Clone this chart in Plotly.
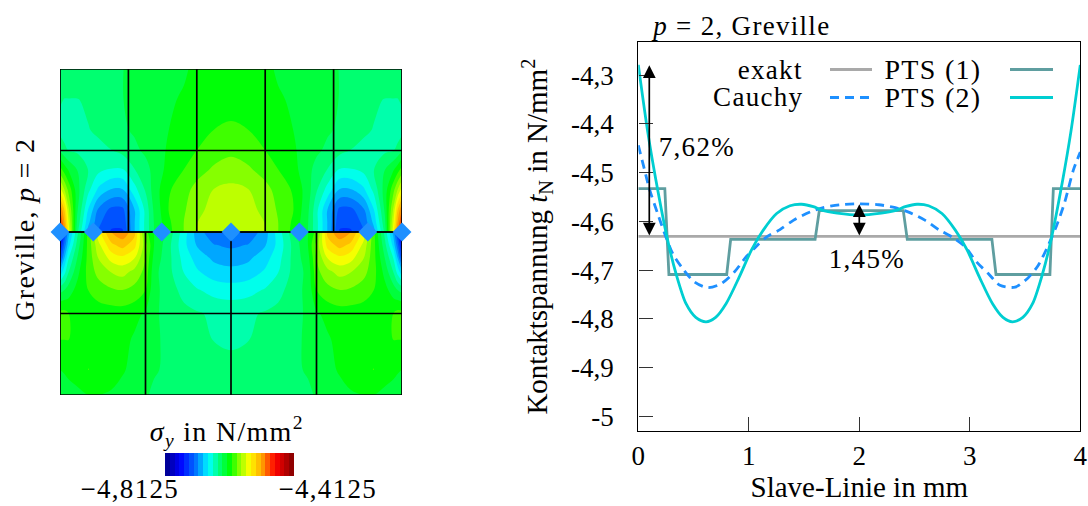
import plotly.graph_objects as go

W, H = 1088, 506
FONT = "Liberation Serif"

# ---------- line chart values (mm, N/mm^2) ----------
exact_x = [0, 4]
exact_y = [-4.631, -4.631]

pts1_x = [0, 0.24, 0.277, 0.80, 0.836, 1.60, 1.638, 2.398, 2.434, 3.20, 3.237, 3.725, 3.756, 4]
pts1_y = [-4.533, -4.533, -4.709, -4.709, -4.637, -4.637, -4.578, -4.578, -4.637, -4.637, -4.709, -4.709, -4.533, -4.533]

cauchy_x = [0, 0.054, 0.10, 0.175, 0.25, 0.311, 0.402, 0.507, 0.628, 0.748, 0.869, 0.975, 1.065, 1.162,
            1.282, 1.403, 1.554, 1.674, 1.825, 2.0, 2.175, 2.326, 2.446, 2.597, 2.718, 2.838, 2.957, 3.06,
            3.167, 3.273, 3.41, 3.527, 3.62, 3.71, 3.787, 3.86, 3.937, 4]
cauchy_y = [-4.444, -4.492, -4.533, -4.584, -4.632, -4.666, -4.697, -4.724, -4.736, -4.728, -4.704, -4.673,
            -4.652, -4.632, -4.617, -4.598, -4.581, -4.572, -4.566, -4.564, -4.566, -4.572, -4.581, -4.598,
            -4.617, -4.632, -4.652, -4.683, -4.707, -4.731, -4.735, -4.716, -4.69, -4.649, -4.608, -4.56,
            -4.495, -4.458]

pts2_x = [0, 0.085, 0.16, 0.266, 0.341, 0.432, 0.52, 0.613, 0.70, 0.794, 0.914, 1.026, 1.131, 1.252, 1.373,
          1.478, 1.584, 1.66, 1.8, 2.0, 2.2, 2.34, 2.416, 2.522, 2.627, 2.748, 2.869, 2.974, 3.086, 3.206,
          3.30, 3.387, 3.48, 3.568, 3.659, 3.734, 3.84, 3.915, 4]
pts2_y = [-4.279, -4.416, -4.516, -4.639, -4.707, -4.769, -4.797, -4.806, -4.797, -4.769, -4.714, -4.658,
          -4.618, -4.584, -4.568, -4.565, -4.570, -4.577, -4.583, -4.587, -4.583, -4.577, -4.570, -4.565,
          -4.568, -4.584, -4.618, -4.658, -4.714, -4.769, -4.797, -4.806, -4.797, -4.769, -4.707, -4.639,
          -4.516, -4.416, -4.279]

y_ticks = [-5, -4.9, -4.8, -4.7, -4.6, -4.5, -4.4, -4.3]
y_tick_text = ["-5", "-4,9", "-4,8", "-4,7", "-4,6", "-4,5", "-4,4", "-4,3"]
x_ticks = [0, 1, 2, 3, 4]

# ---------- field values on the left half of the patch (the stress field is symmetric) ----------
field_x_half = [0, 0.05, 0.1, 0.2, 0.33, 0.45, 0.6, 0.73, 0.87, 1.0, 1.1, 1.27, 1.45, 1.6, 1.8, 2.0]

upper_y = [4, 3.62, 3.25, 3, 2.77, 2.52, 2.27, 2.12, 2]
upper_z_half = [
    [-4.64, -4.64, -4.64, -4.64, -4.64, -4.64, -4.638, -4.635, -4.632, -4.63, -4.628, -4.625, -4.622, -4.616, -4.613, -4.612],
    [-4.648, -4.65, -4.65, -4.65, -4.648, -4.646, -4.64, -4.635, -4.632, -4.63, -4.627, -4.622, -4.618, -4.613, -4.611, -4.61],
    [-4.655, -4.657, -4.658, -4.655, -4.65, -4.648, -4.642, -4.637, -4.633, -4.63, -4.626, -4.62, -4.615, -4.608, -4.605, -4.603],
    [-4.635, -4.645, -4.65, -4.652, -4.65, -4.652, -4.65, -4.645, -4.638, -4.632, -4.627, -4.618, -4.612, -4.605, -4.598, -4.594],
    [-4.60, -4.612, -4.622, -4.635, -4.65, -4.66, -4.665, -4.665, -4.65, -4.64, -4.63, -4.615, -4.605, -4.597, -4.588, -4.583],
    [-4.555, -4.575, -4.595, -4.628, -4.66, -4.682, -4.695, -4.695, -4.67, -4.648, -4.628, -4.607, -4.596, -4.585, -4.575, -4.572],
    [-4.50, -4.53, -4.572, -4.632, -4.68, -4.712, -4.728, -4.728, -4.695, -4.66, -4.632, -4.605, -4.592, -4.58, -4.57, -4.567],
    [-4.48, -4.515, -4.56, -4.638, -4.69, -4.72, -4.735, -4.735, -4.695, -4.66, -4.634, -4.608, -4.59, -4.576, -4.567, -4.565],
    [-4.455, -4.50, -4.55, -4.645, -4.70, -4.725, -4.74, -4.74, -4.695, -4.66, -4.635, -4.61, -4.59, -4.575, -4.565, -4.563],
]

lower_y = [2, 1.84, 1.68, 1.51, 1.29, 1, 0.68, 0.31, 0]
lower_z_half = [
    [-4.785, -4.74, -4.70, -4.655, -4.60, -4.55, -4.515, -4.505, -4.525, -4.60, -4.62, -4.64, -4.672, -4.70, -4.722, -4.728],
    [-4.76, -4.72, -4.685, -4.645, -4.60, -4.565, -4.535, -4.525, -4.54, -4.585, -4.62, -4.645, -4.675, -4.695, -4.708, -4.712],
    [-4.735, -4.695, -4.665, -4.635, -4.60, -4.575, -4.555, -4.55, -4.56, -4.59, -4.625, -4.645, -4.67, -4.685, -4.697, -4.70],
    [-4.69, -4.67, -4.65, -4.625, -4.60, -4.585, -4.575, -4.57, -4.58, -4.595, -4.63, -4.645, -4.665, -4.677, -4.687, -4.69],
    [-4.64, -4.635, -4.628, -4.615, -4.605, -4.598, -4.592, -4.59, -4.595, -4.605, -4.63, -4.642, -4.655, -4.663, -4.67, -4.672],
    [-4.60, -4.60, -4.605, -4.607, -4.61, -4.612, -4.612, -4.612, -4.615, -4.622, -4.632, -4.64, -4.645, -4.648, -4.652, -4.654],
    [-4.605, -4.605, -4.605, -4.607, -4.607, -4.608, -4.61, -4.615, -4.622, -4.63, -4.633, -4.637, -4.64, -4.645, -4.65, -4.652],
    [-4.62, -4.618, -4.615, -4.61, -4.605, -4.606, -4.612, -4.618, -4.625, -4.632, -4.634, -4.636, -4.638, -4.64, -4.643, -4.645],
    [-4.63, -4.63, -4.628, -4.625, -4.62, -4.62, -4.622, -4.626, -4.63, -4.634, -4.636, -4.637, -4.637, -4.638, -4.64, -4.64],
]

sigma_min, sigma_max = -4.8125, -4.4125
n_bands = 27
colorbar_levels = [sigma_min + (i + 0.5) * (sigma_max - sigma_min) / n_bands for i in range(n_bands)]

jet_scale = [
    [0.0, "rgb(0,0,135)"], [0.12, "rgb(0,0,255)"], [0.25, "rgb(0,128,255)"], [0.34, "rgb(0,255,255)"],
    [0.415, "rgb(0,255,128)"], [0.505, "rgb(0,255,0)"], [0.57, "rgb(128,255,0)"], [0.655, "rgb(255,255,0)"],
    [0.75, "rgb(255,165,0)"], [0.853, "rgb(255,0,0)"], [1.0, "rgb(128,0,0)"],
]

upper_knots_x = [0, 0.8, 1.6, 2.4, 3.2, 4]
upper_knots_y = [2, 3, 4]
lower_knots_x = [0, 1, 2, 3, 4]
lower_knots_y = [0, 1, 2]

greville_x = [0, 0.39, 1.19, 2, 2.8, 3.6, 4]
greville_y = [2, 2, 2, 2, 2, 2, 2]

# ---------- colours ----------
C_EXACT, C_PTS1, C_CAUCHY, C_PTS2 = "#A9A9A9", "#5F9EA0", "#1E90FF", "#00CED1"


def full_x(half):
    return list(half) + [4 - v for v in half[-2::-1]]


def full_row(row):
    return list(row) + list(row[-2::-1])


fig = go.Figure()
field_x = full_x(field_x_half)
for ys, zs in ((upper_y, upper_z_half), (lower_y, lower_z_half)):
    fig.add_trace(go.Contour(
        x=field_x, y=ys[::-1], z=[full_row(r) for r in zs[::-1]],
        xaxis="x", yaxis="y", zmin=sigma_min, zmax=sigma_max, zauto=False,
        autocontour=False,
        contours=dict(start=sigma_min, end=sigma_max, size=(sigma_max - sigma_min) / n_bands, coloring="fill", showlines=False),
        line=dict(width=0), colorscale=jet_scale, showscale=False, hoverinfo="skip",
    ))

fig.add_trace(go.Heatmap(z=[colorbar_levels], x=colorbar_levels, xaxis="x3", yaxis="y3", zmin=sigma_min, zmax=sigma_max,
                         colorscale=jet_scale, showscale=False, hoverinfo="skip"))


def mesh(knots_x, knots_y):
    xs, ys = [], []
    for kx in knots_x:
        xs += [kx, kx, None]
        ys += [knots_y[0], knots_y[-1], None]
    for ky in knots_y:
        xs += [knots_x[0], knots_x[-1], None]
        ys += [ky, ky, None]
    return xs, ys


for kx, ky in ((upper_knots_x, upper_knots_y), (lower_knots_x, lower_knots_y)):
    mx, my = mesh(kx, ky)
    fig.add_trace(go.Scatter(x=mx, y=my, mode="lines", line=dict(color="black", width=1.7),
                             xaxis="x", yaxis="y", showlegend=False, hoverinfo="skip", cliponaxis=False))

fig.add_trace(go.Scatter(x=greville_x, y=greville_y, mode="markers", xaxis="x", yaxis="y",
                         marker=dict(symbol="diamond", size=14.5, color=C_CAUCHY, line=dict(width=0)),
                         cliponaxis=False, showlegend=False, hoverinfo="skip"))

for name, xs, ys, col, dash, shape in (
    ("exakt", exact_x, exact_y, C_EXACT, "solid", "linear"),
    ("PTS (1)", pts1_x, pts1_y, C_PTS1, "solid", "linear"),
    ("Cauchy", cauchy_x, cauchy_y, C_CAUCHY, "9px,6px", "spline"),
    ("PTS (2)", pts2_x, pts2_y, C_PTS2, "solid", "spline"),
):
    fig.add_trace(go.Scatter(x=xs, y=ys, mode="lines", name=name, xaxis="x2", yaxis="y2", showlegend=False,
                             line=dict(color=col, width=2.8, dash=dash, shape=shape, smoothing=0.8)))


def label(px, py, text, size=27, angle=0):
    return dict(x=px / W, y=1 - py / H, xref="paper", yref="paper", text=text, showarrow=False,
                xanchor="center", yanchor="middle", textangle=angle, font=dict(family=FONT, size=size, color="black"))


annotations = [
    label(24, 229, "Greville, <i>p</i> = 2", angle=-90, size=28),
    label(227, 431, "<i>σ<sub>y</sub></i> in N/mm<sup>2</sup>", size=28),
    label(129, 489, "−4,8125", size=27),
    label(327, 489, "−4,4125", size=27),
    label(741, 26, "<i>p</i> = 2, Greville"),
    label(770, 70, "exakt"),
    label(758, 97, "Cauchy"),
    label(933, 70, "PTS (1)", size=28),
    label(933, 97, "PTS (2)", size=28),
    label(697, 147, "7,62%"),
    label(867, 259, "1,45%"),
]
for ax_x, top, bottom in ((0.0995, -4.28, -4.632), (2.0, -4.565, -4.632)):
    annotations.append(dict(x=ax_x, y=top, ax=ax_x, ay=bottom, xref="x2", yref="y2", axref="x2", ayref="y2",
                            text="", showarrow=True, arrowhead=2, arrowside="end+start", arrowsize=1.5,
                            arrowwidth=1.7, arrowcolor="black"))

shapes = []
for x0, x1, yy, col, dash in ((830, 872, 69.5, C_EXACT, "solid"), (1010, 1053, 69.5, C_PTS1, "solid"),
                              (830, 872, 97.5, C_CAUCHY, "9px,6px"), (1010, 1053, 97.5, C_PTS2, "solid")):
    shapes.append(dict(type="line", xref="paper", yref="paper", x0=x0 / W, x1=x1 / W, y0=1 - yy / H, y1=1 - yy / H,
                       line=dict(color=col, width=2.8, dash=dash)))

fig.update_layout(
    width=W, height=H, margin=dict(l=0, r=0, t=0, b=0, autoexpand=False), paper_bgcolor="white", plot_bgcolor="white",
    showlegend=False, annotations=annotations, shapes=shapes,
    font=dict(family=FONT, size=27, color="black"),
    xaxis=dict(domain=[60 / W, 402 / W], range=[0, 4], visible=False),
    yaxis=dict(domain=[1 - 395 / H, 1 - 69 / H], range=[0, 4], visible=False),
    xaxis3=dict(domain=[165 / W, 294 / W], anchor="y3", visible=False),
    yaxis3=dict(domain=[1 - 476 / H, 1 - 453 / H], anchor="x3", visible=False),
    xaxis2=dict(domain=[638.3 / W, 1080.3 / W], range=[0, 4], anchor="y2", showline=True, mirror=True,
                linecolor="black", linewidth=1.4, ticks="inside", ticklen=14, tickwidth=1, tickcolor="#333",
                tickvals=x_ticks, showgrid=False, zeroline=False, tickfont=dict(family=FONT, size=27),
                title=dict(text="Slave-Linie in mm", font=dict(family=FONT, size=29), standoff=6)),
    yaxis2=dict(domain=[1 - 431 / H, 1 - 42.3 / H], range=[-5.03, -4.2328], anchor="x2", showline=True, mirror=True,
                linecolor="black", linewidth=1.4, ticks="inside", ticklen=14, tickwidth=1, tickcolor="#333",
                tickvals=y_ticks, ticktext=y_tick_text, showgrid=False, zeroline=False, ticklabelstandoff=18,
                tickfont=dict(family=FONT, size=27),
                title=dict(text="Kontaktspannung <i>t</i><sub>N</sub> in N/mm<sup>2</sup>",
                           font=dict(family=FONT, size=29), standoff=14)),
)

post = """
document.body.style.margin='0';document.body.style.overflow='hidden';
var s=document.createElement('style');
s.textContent='.annotation-text{letter-spacing:1.3px}.xtitle{letter-spacing:2.1px}.ytitle{letter-spacing:2.6px}';
document.head.appendChild(s);
"""
fig.write_html("out.html", post_script=post, config=dict(displayModeBar=False))
